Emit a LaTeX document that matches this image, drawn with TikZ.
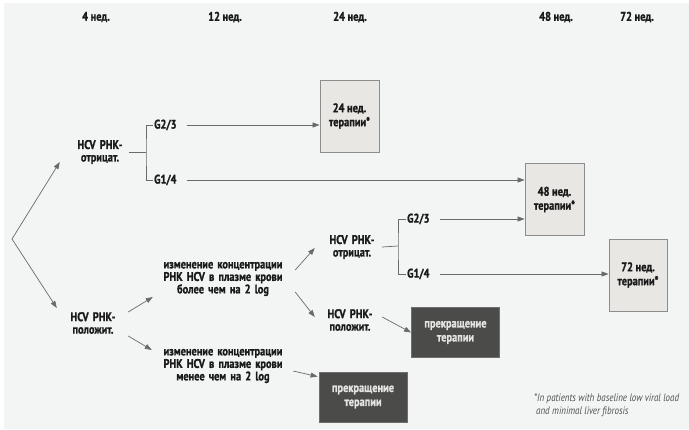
\documentclass[tikz,border=0pt]{standalone}
\usepackage{fontspec}
\setmainfont{PT Sans}[FakeStretch=0.83,BoldFeatures={FakeBold=1.2}]
\usetikzlibrary{arrows.meta}
\definecolor{bgcol}{HTML}{F3F5F5}
\definecolor{boxfill}{HTML}{E9E7E4}
\definecolor{boxline}{HTML}{8C8C8C}
\definecolor{darkfill}{HTML}{4B4B49}
\definecolor{darkline}{HTML}{6E6E6E}
\definecolor{darktext}{HTML}{E4E4E4}
\definecolor{linegray}{HTML}{6A6A6A}
\definecolor{txt}{HTML}{1A1A1A}
\definecolor{foot}{HTML}{505050}

\begin{document}
\begin{tikzpicture}[x=1pt,y=-1pt,
  lbl/.style={font=\bfseries\fontsize{12.5}{12.5}\selectfont,align=center,text=txt,inner sep=0pt},
  hdr/.style={font=\bfseries\fontsize{12.5}{14}\selectfont,text=txt},
  lightbox/.style={draw=boxline,fill=boxfill,line width=0.8pt,minimum width=59pt,minimum height=72pt,align=center,text=txt,font=\bfseries\fontsize{12.5}{14}\selectfont},
  darkbox/.style={draw=darkline,fill=darkfill,line width=0.8pt,minimum width=88pt,minimum height=50pt,align=center,text=darktext,font=\bfseries\fontsize{12.5}{14}\selectfont},
  arr/.style={draw=linegray,line width=0.7pt,-{Triangle[length=7pt,width=5pt]}},
  brk/.style={draw=linegray,line width=0.7pt}]
\useasboundingbox (0,0) rectangle (689,429);
\fill[white] (0,0) rectangle (689,429);
\fill[bgcol] (4,3) rectangle (689,429);

\node[hdr] (h4) at (96,17) {4 нед.};
\node[hdr] (h12) at (225,17) {12 нед.};
\node[hdr] (h24) at (350,17) {24 нед.};
\node[hdr] (h48) at (556,17) {48 нед.};
\node[hdr] (h72) at (637,17) {72 нед.};

\coordinate (root) at (12,239);
\node[lbl,text width=56pt] (neg1) at (100,152) {HCV РНК-\\отрицат.};
\node[lbl,text width=56pt] (pos1) at (93,323) {HCV РНК-\\положит.};
\draw[arr] (root) -- ([shift={(-12,10)}]neg1.west);
\draw[arr] (root) -- ([shift={(-8,-15)}]pos1.west);

\coordinate (br1) at (146,152);
\node[lbl,anchor=west] (g23a) at (154,125) {G2/3};
\node[lbl,anchor=west] (g14a) at (154,180) {G1/4};
\draw[brk] ([xshift=1pt]neg1.east) -- (br1);
\draw[brk] ([xshift=-1pt]g23a.west) -| (br1) |- ([xshift=-1pt]g14a.west);

\node[lightbox] (box24) at (349.5,116) {24 нед.\\терапии*};
\node[lightbox] (box48) at (554.5,199.5) {48 нед.\\терапии*};
\node[lightbox,minimum width=58pt] (box72) at (638,275) {72 нед.\\терапии*};

\draw[arr,shorten <=10pt] (g23a.east) -- (box24.west |- g23a.east);
\draw[arr,shorten <=10pt] (g14a.east) -- (box48.west |- g14a.east);

\node[lbl,text width=124pt] (chg1) at (223,279) {изменение концентрации\\РНК HCV в плазме крови\\более чем на 2 log};
\node[lbl,text width=124pt] (chg2) at (223,366) {изменение концентрации\\РНК HCV в плазме крови\\менее чем на 2 log};
\draw[arr] ([shift={(7,-11)}]pos1.east) -- ([shift={(-8,18)}]chg1.west);
\draw[arr] ([shift={(7,13)}]pos1.east) -- ([shift={(-9,-16)}]chg2.west);

\node[lbl,text width=56pt] (neg2) at (352,247) {HCV РНК-\\отрицат.};
\node[lbl,text width=56pt] (pos2) at (350,320) {HCV РНК-\\положит.};
\draw[arr] ([shift={(10,-9)}]chg1.east) -- ([shift={(-9,1)}]neg2.west);
\draw[arr] ([shift={(10,13)}]chg1.east) -- ([shift={(-7,-3)}]pos2.west);

\coordinate (br2) at (398,246);
\node[lbl,anchor=west] (g23b) at (407,219) {G2/3};
\node[lbl,anchor=west] (g14b) at (407,274) {G1/4};
\draw[brk] ([xshift=2pt]neg2.east) -- (br2);
\draw[brk] ([xshift=-1pt]g23b.west) -| (br2) |- ([xshift=-1pt]g14b.west);
\draw[arr,shorten <=10pt] (g23b.east) -- (box48.west |- g23b.east);
\draw[arr,shorten <=10pt] (g14b.east) -- (box72.west |- g14b.east);

\node[darkbox] (stop1) at (455.5,332.5) {прекращение\\терапии};
\node[darkbox] (stop2) at (363,397) {прекращение\\терапии};
\draw[arr] ([shift={(4,-3)}]pos2.east) -- (stop1.west);
\draw[arr] ([shift={(8,5)}]chg2.east) -- ([shift={(-1,5)}]stop2.north west);

\node[anchor=north west,align=left,inner sep=0pt,text=foot,font=\itshape\fontsize{10.8}{12.5}\selectfont] (note) at (534,394) {*In patients with baseline low viral load\\\hspace{2pt}and minimal liver fibrosis};
\end{tikzpicture}
\end{document}
